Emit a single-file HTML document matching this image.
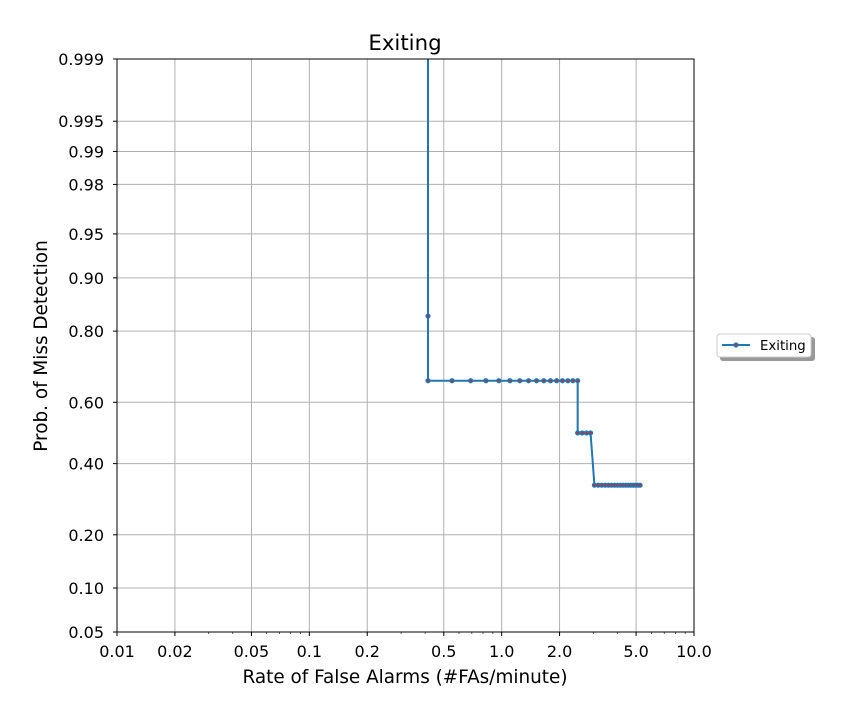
<!DOCTYPE html>
<html><head><meta charset="utf-8"><style>
body{margin:0;background:#fff;font-family:"DejaVu Sans","Liberation Sans",sans-serif}
</style></head><body>
<svg id="c" width="847" height="720" xmlns="http://www.w3.org/2000/svg" font-family="DejaVu Sans, Liberation Sans, sans-serif"></svg>
<script>
const xTicks=[0.01,0.02,0.05,0.1,0.2,0.5,1,2,5,10];
const xTickLabels=["0.01","0.02","0.05","0.1","0.2","0.5","1.0","2.0","5.0","10.0"];
const yTicks=[0.05,0.10,0.20,0.40,0.60,0.80,0.90,0.95,0.98,0.99,0.995,0.999];
const yTickLabels=["0.05","0.10","0.20","0.40","0.60","0.80","0.90","0.95","0.98","0.99","0.995","0.999"];
const unit=0.138;
const faCounts=[3,3,3,4,5,6,7,8,9,10,11,12,13,14,15,16,17,18,18,19,20,21,22,23,24,25,26,27,28,29,30,31,32,33,34,35,36,37,38];
const missProbs=[0.9999,0.833,0.667,0.667,0.667,0.667,0.667,0.667,0.667,0.667,0.667,0.667,0.667,0.667,0.667,0.667,0.667,0.667,0.5,0.5,0.5,0.5,0.333,0.333,0.333,0.333,0.333,0.333,0.333,0.333,0.333,0.333,0.333,0.333,0.333,0.333,0.333,0.333,0.333];
const NS="http://www.w3.org/2000/svg";
const svg=document.getElementById('c');
const L=117,R=694,T=59,B=632;
function probit(p){const a=[-39.6968302866538,220.946098424521,-275.928510446969,138.357751867269,-30.6647980661472,2.50662827745924],b=[-54.4760987982241,161.585836858041,-155.698979859887,66.8013118877197,-13.2806815528857],c=[-0.00778489400243029,-0.322396458041136,-2.40075827716184,-2.54973253934373,4.37466414146497,2.93816398269878],d=[0.00778469570904146,0.32246712907004,2.445134137143,3.75440866190742];let q,r;
if(p<0.02425){q=Math.sqrt(-2*Math.log(p));return(((((c[0]*q+c[1])*q+c[2])*q+c[3])*q+c[4])*q+c[5])/((((d[0]*q+d[1])*q+d[2])*q+d[3])*q+1);}
if(p>1-0.02425){q=Math.sqrt(-2*Math.log(1-p));return-(((((c[0]*q+c[1])*q+c[2])*q+c[3])*q+c[4])*q+c[5])/((((d[0]*q+d[1])*q+d[2])*q+d[3])*q+1);}
q=p-0.5;r=q*q;return(((((a[0]*r+a[1])*r+a[2])*r+a[3])*r+a[4])*r+a[5])*q/(((((b[0]*r+b[1])*r+b[2])*r+b[3])*r+b[4])*r+1);}
const xs=v=>L+(Math.log10(v)+2)/3*(R-L);
const y0=probit(0.999),y1=probit(0.05);
const ys=p=>T+(y0-probit(p))/(y0-y1)*(B-T);
function el(t,a,txt){const e=document.createElementNS(NS,t);for(const k in a)e.setAttribute(k,a[k]);if(txt!==undefined)e.textContent=txt;svg.appendChild(e);return e;}
for(let dec=-2;dec<1;dec++)for(let m=2;m<10;m++){const x=xs(m*Math.pow(10,dec));el('line',{x1:x,x2:x,y1:B,y2:B+2,stroke:'#000','stroke-width':0.6});}
xTicks.forEach((v,i)=>{const x=xs(v);
const g=el('line',{x1:x,x2:x,y1:T,y2:B,stroke:'#b0b0b0','stroke-width':1});

el('line',{x1:x,x2:x,y1:B,y2:B+4,stroke:'#000'});
const t=el('text',{x:x,y:B+25,'text-anchor':'middle','font-size':16},xTickLabels[i]);
});
yTicks.forEach((v,i)=>{const y=ys(v);
const g=el('line',{x1:L,x2:R,y1:y,y2:y,stroke:'#b0b0b0','stroke-width':1});

el('line',{x1:L-4,x2:L,y1:y,y2:y,stroke:'#000'});
const t=el('text',{x:L-13,y:y+6,'text-anchor':'end','font-size':16},yTickLabels[i]);
});
const cp=el('clipPath',{id:'cp'});const cr=document.createElementNS(NS,'rect');cr.setAttribute('x',L);cr.setAttribute('y',T);cr.setAttribute('width',R-L);cr.setAttribute('height',B-T);cp.appendChild(cr);
const pts=faCounts.map((n,i)=>[xs(n*unit),ys(missProbs[i])]);
const pl=el('polyline',{points:pts.map(p=>p.join(',')).join(' '),fill:'none',stroke:'#1f77b4','stroke-width':2,'clip-path':'url(#cp)'});

pts.forEach(p=>{if(p[1]<T)return;
const m=el('circle',{cx:p[0],cy:p[1],r:2.6,fill:'#1f77b4'});

el('circle',{cx:p[0],cy:p[1],r:1.1,fill:'#d62728'});});
const fr=el('rect',{x:L,y:T,width:R-L,height:B-T,fill:'none',stroke:'#000','stroke-width':1});

const tt=el('text',{x:405,y:50,'text-anchor':'middle','font-size':21.3},'Exiting');

const xt=el('text',{x:405,y:683,'text-anchor':'middle','font-size':18.4},'Rate of False Alarms (#FAs/minute)');

const yt=el('text',{x:47,y:346,'text-anchor':'middle','font-size':18.4,transform:'rotate(-90 47 346)'},'Prob. of Miss Detection');

el('rect',{x:720,y:337,width:95,height:24,rx:3,fill:'#999'});
const lg=el('rect',{x:717,y:334,width:94,height:23,rx:3,fill:'#fff',stroke:'#ccc'});

el('line',{x1:722,x2:750,y1:345,y2:345,stroke:'#1f77b4','stroke-width':2});
el('circle',{cx:736,cy:345,r:2.6,fill:'#1f77b4'});el('circle',{cx:736,cy:345,r:1.1,fill:'#d62728'});
const lt=el('text',{x:760,y:350,'font-size':13.3},'Exiting');

</script></body></html>
